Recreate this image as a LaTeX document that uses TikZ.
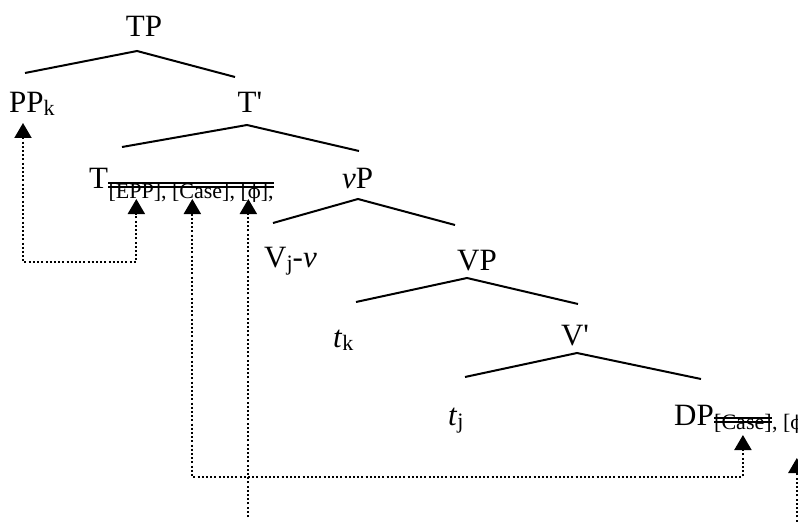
\documentclass[tikz,border=0pt]{standalone}
\usepackage{fontspec}
\setmainfont{Liberation Serif}
\newfontfamily\phifont{DejaVu Serif}
\usetikzlibrary{arrows.meta}
\newcommand\labfont{\fontsize{31}{33}\selectfont}
\newcommand\featfont{\fontsize{22}{23}\selectfont}
\newcommand\dn[1]{\raisebox{-3pt}{\featfont #1}}
\newcommand\fphi{{\phifont\fontsize{19}{20}\selectfont ϕ}}

\begin{document}
\begin{tikzpicture}[x=1pt,y=-1pt,
  lab/.style={inner sep=0pt, font=\labfont},
  feat/.style={inner sep=0pt, font=\featfont, anchor=base west},
  branch/.style={line width=2pt},
  strike/.style={line width=1.4pt},
  move/.style={line width=2pt, dash pattern=on 2pt off 2.2pt},
  tri/.tip={Triangle[width=17pt,length=15pt]}]
\useasboundingbox (0,0) rectangle (798,524);

% labels of the tree
\node[lab, anchor=base] (TP) at (144,37) {TP};
\node[lab, anchor=base west] (PPk) at (9,113) {PP\dn{k}};
\node[lab, anchor=base] (Tbar) at (250,113) {T\textquotesingle};
\node[lab, anchor=base west] (T) at (89,188) {T};
\node[feat] (Tfeat) at ([yshift=-10pt]T.base east) {[EPP], [Case], [\fphi],};
\node[lab, anchor=base west] (vP) at (342,188) {\textit{v}P};
\node[lab, anchor=base west] (Vv) at (264,267) {V\dn{j}-\textit{v}};
\node[lab, anchor=base] (VP) at (477,270) {VP};
\node[lab, anchor=base west] (tk) at (333,347) {\textit{t}\dn{k}};
\node[lab, anchor=base] (Vbar) at (575,345) {V\textquotesingle};
\node[lab, anchor=base west] (tj) at (448,425) {\textit{t}\dn{j}};
\node[lab, anchor=base west] (DP) at (674,425) {DP};
\node[feat] (DPcase) at ([yshift=-4pt]DP.base east) {[Case]};
\node[feat] (DPphi) at (DPcase.base east) {, [\fphi]};

% checked features
\draw[strike] ([yshift=15pt]Tfeat.base west) -- ([yshift=15pt]Tfeat.base east);
\draw[strike] ([yshift=11pt]Tfeat.base west) -- ([yshift=11pt]Tfeat.base east);
\draw[strike] ([yshift=11pt]DPcase.base west) -- ([yshift=11pt]DPcase.base east);
\draw[strike] ([yshift=7pt]DPcase.base west) -- ([yshift=7pt]DPcase.base east);

% branches
\coordinate (TP-l) at (25,73);   \coordinate (TP-a) at (137,51);  \coordinate (TP-r) at (235,77);
\coordinate (Tb-l) at (122,147); \coordinate (Tb-a) at (247,125); \coordinate (Tb-r) at (359,151);
\coordinate (vP-l) at (273,223); \coordinate (vP-a) at (358,199); \coordinate (vP-r) at (455,225);
\coordinate (VP-l) at (356,302); \coordinate (VP-a) at (467,278); \coordinate (VP-r) at (578,304);
\coordinate (Vb-l) at (465,377); \coordinate (Vb-a) at (577,353); \coordinate (Vb-r) at (701,379);
\foreach \p in {TP,Tb,vP,VP,Vb}
  \draw[branch] (\p-l) -- (\p-a) -- (\p-r);

% movement and agreement
\coordinate (pp-tip) at ([shift={(14pt,-10pt)}]PPk.base west);
\coordinate (epp-tip) at ([shift={(28pt,-1pt)}]Tfeat.base west);
\coordinate (tcase-tip) at ([shift={(84pt,-1pt)}]Tfeat.base west);
\coordinate (tphi-tip) at ([shift={(140pt,-1pt)}]Tfeat.base west);
\coordinate (dcase-tip) at ([yshift=-6pt]DPcase.base);
\coordinate (dphi-tip) at ([shift={(25pt,-29pt)}]DPphi.base west);

\draw[move, arrows={tri-tri}] (pp-tip) -- (pp-tip |- 0,262) -- (epp-tip |- 0,262) -- (epp-tip);
\draw[move, arrows={tri-tri}] (tcase-tip) -- (tcase-tip |- 0,477) -- (dcase-tip |- 0,477) -- (dcase-tip);
\draw[move, arrows={-tri}] (tphi-tip |- 0,517) -- (tphi-tip);
\draw[move, arrows={-tri}] (dphi-tip |- 0,530) -- (dphi-tip);

\end{tikzpicture}
\end{document}
